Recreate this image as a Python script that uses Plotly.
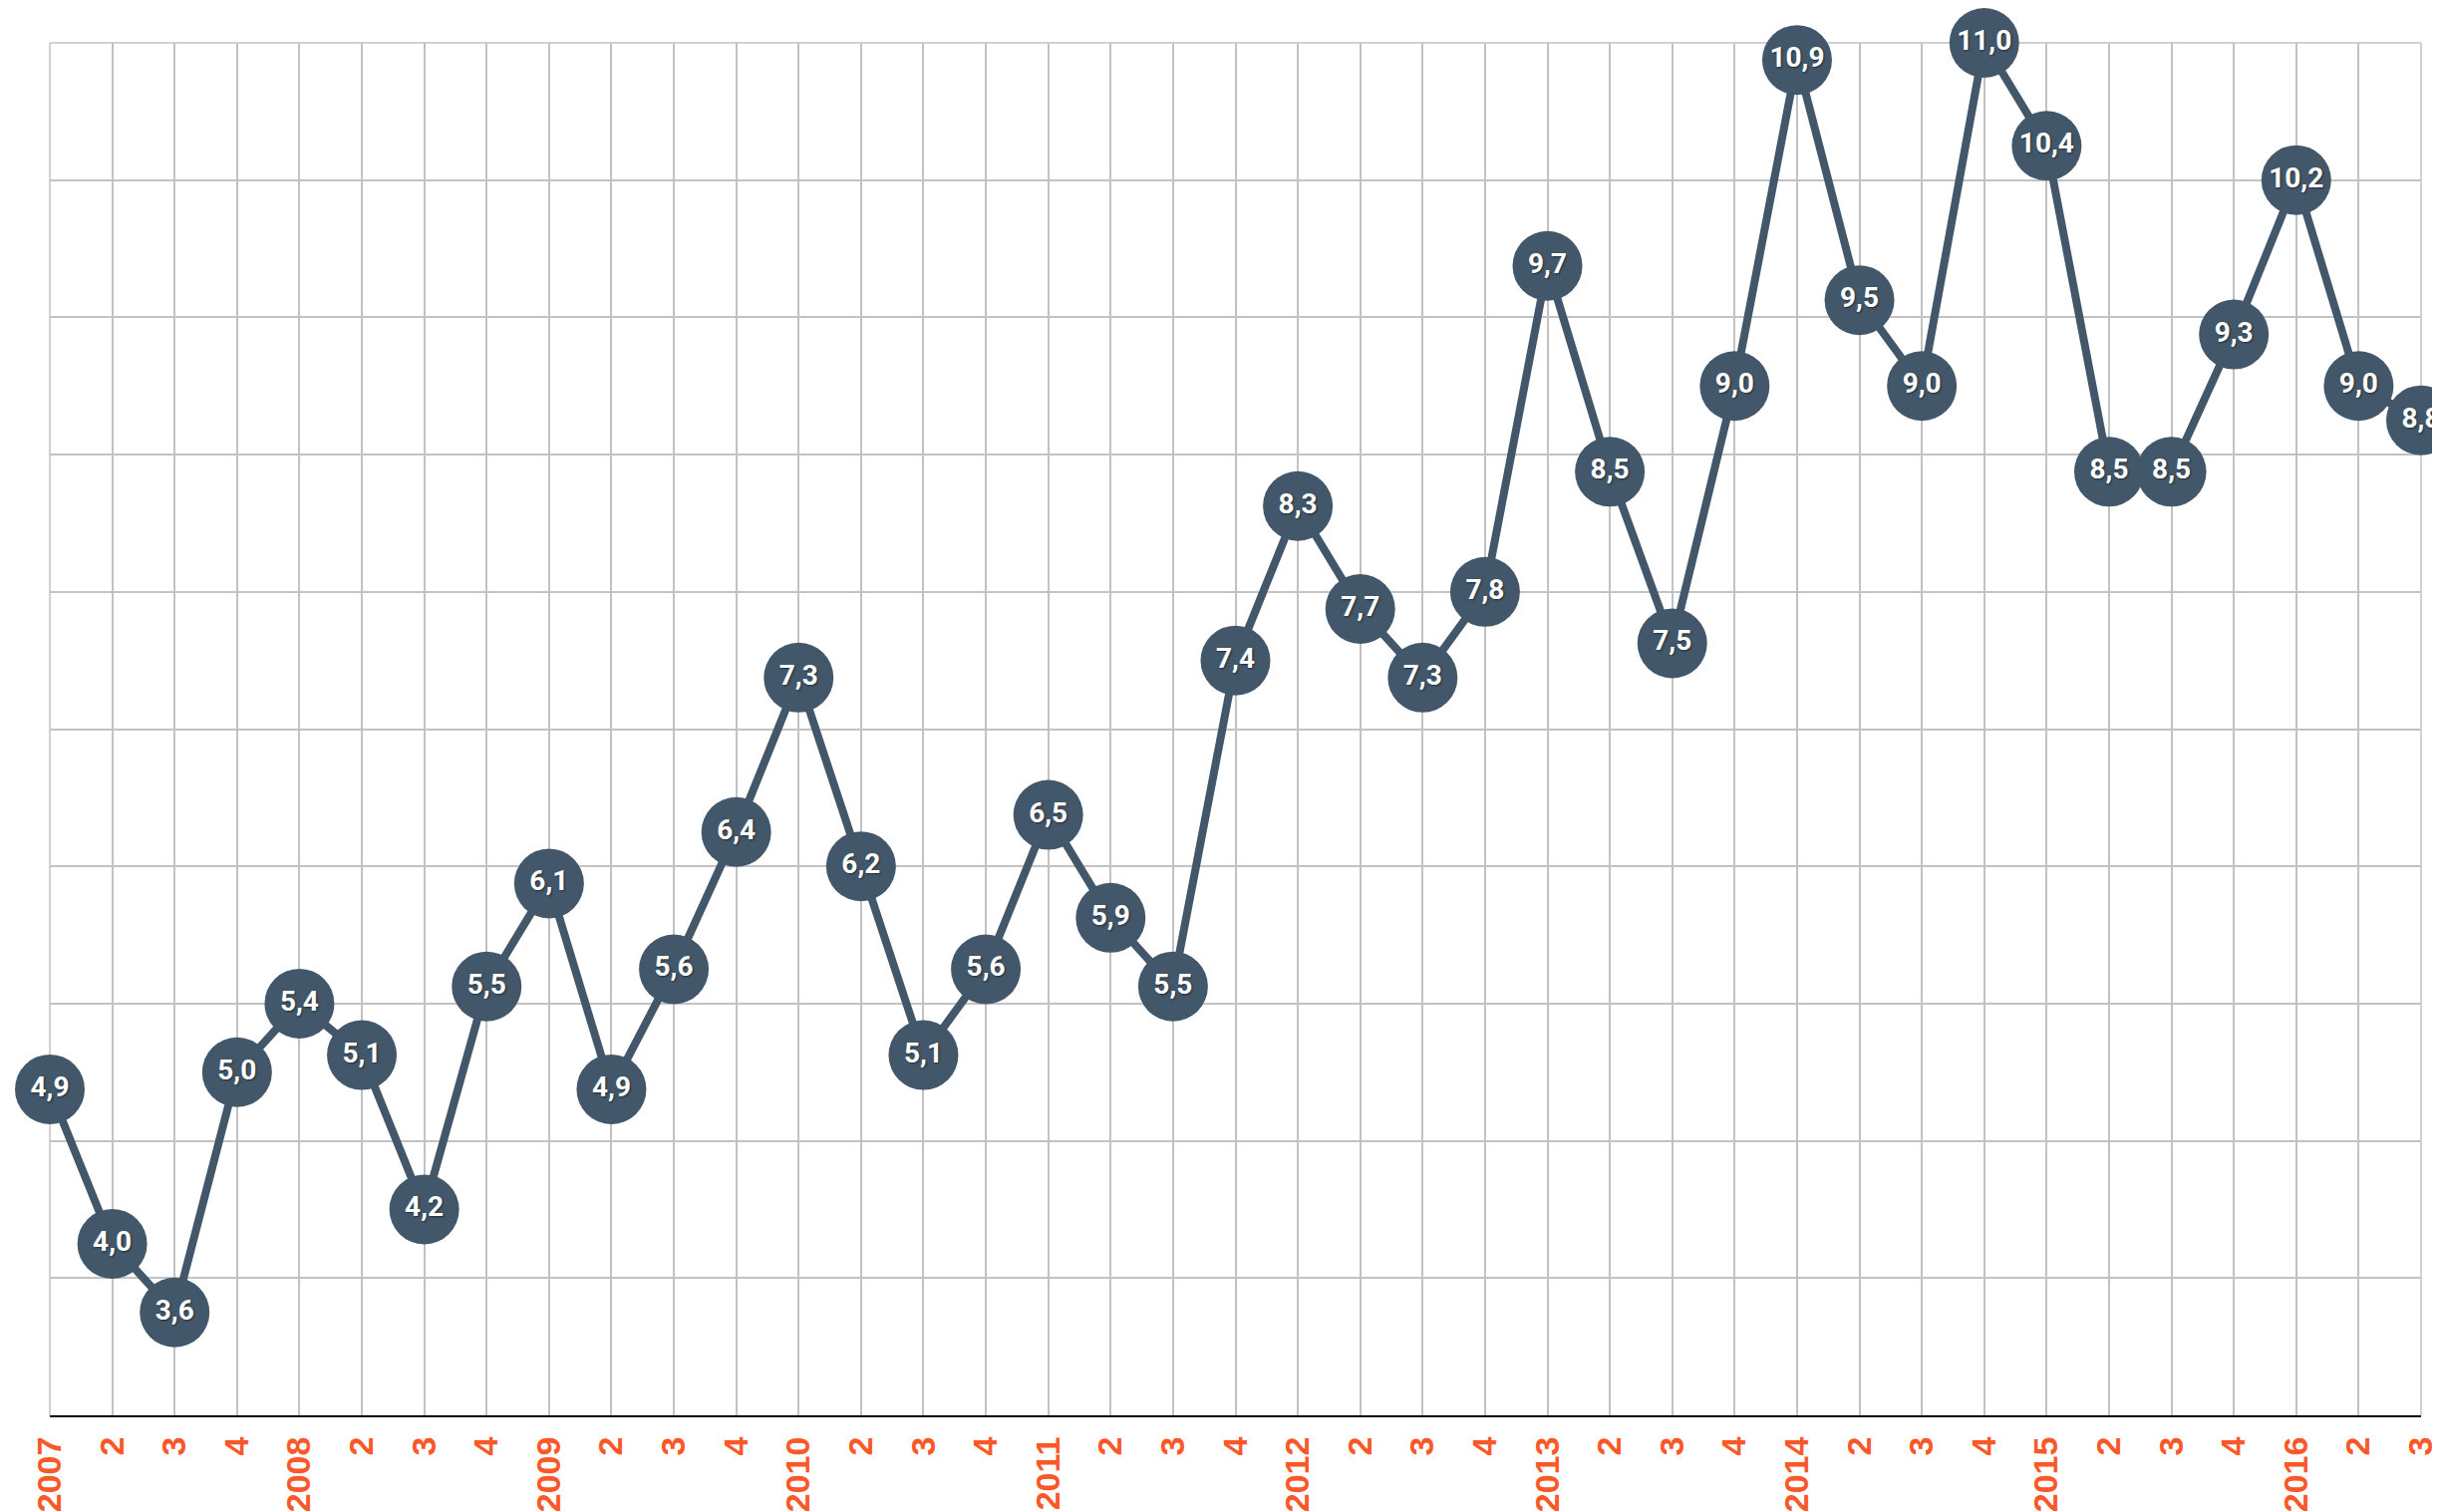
import plotly.graph_objects as go

# quarterly values, 2007 Q1 .. 2016 Q3
quarters = [f"{y}-Q{q}" for y in range(2007, 2017) for q in range(1, 5)][:39]
tick_labels = [str(y) if q == 1 else str(q) for y in range(2007, 2017) for q in range(1, 5)][:39]
values = [
    4.9, 4.0, 3.6, 5.0,
    5.4, 5.1, 4.2, 5.5,
    6.1, 4.9, 5.6, 6.4,
    7.3, 6.2, 5.1, 5.6,
    6.5, 5.9, 5.5, 7.4,
    8.3, 7.7, 7.3, 7.8,
    9.7, 8.5, 7.5, 9.0,
    10.9, 9.5, 9.0, 11.0,
    10.4, 8.5, 8.5, 9.3,
    10.2, 9.0, 8.8,
]

NAVY = "#42576A"
ORANGE = "#FA5828"
GRID = "#C2C2C2"

fig = go.Figure()

fig.add_trace(go.Scatter(
    x=quarters,
    y=values,
    mode="lines+markers+text",
    line=dict(color=NAVY, width=8),
    marker=dict(size=70, color=NAVY, line=dict(width=0)),
    texttemplate="%{y:.1f}",
    textposition="middle center",
    textfont=dict(family="Roboto", size=28, color="white", weight="bold",
                  shadow="1px 1px 2px rgba(0,0,0,0.5)"),
    cliponaxis=False,
    hoverinfo="skip",
))

# the page body adds an 8px offset, so the figure is 8px smaller than the window
fig.update_layout(
    width=2440,
    height=1509,
    margin=dict(l=42, r=19, t=35, b=97, autoexpand=False),
    paper_bgcolor="white",
    plot_bgcolor="white",
    showlegend=False,
    separators=", ",
    xaxis=dict(
        type="category",
        range=[0, len(quarters) - 1],
        tickvals=quarters,
        ticktext=tick_labels,
        tickangle=-90,
        tickfont=dict(family="Liberation Sans Narrow, Arial Narrow, sans-serif",
                      size=34, color=ORANGE, weight="bold"),
        automargin=False,
        showgrid=True,
        gridcolor=GRID,
        gridwidth=1.5,
        showline=True,
        linecolor="black",
        linewidth=2,
        ticks="",
        ticklabelstandoff=6,
    ),
    yaxis=dict(
        range=[3, 11],
        dtick=0.8,
        tick0=3,
        showticklabels=False,
        automargin=False,
        showgrid=True,
        gridcolor=GRID,
        gridwidth=1.5,
        zeroline=False,
        ticks="",
    ),
)

# vertical gridlines at the outer edges and the top border
for x0, x1, y0, y1 in [(0, 0, 0, 1), (1, 1, 0, 1), (0, 1, 1, 1)]:
    fig.add_shape(type="line", xref="paper", yref="paper", x0=x0, x1=x1, y0=y0, y1=y1,
                  line=dict(color=GRID, width=1.5), layer="below")

fig.write_html("out.html")
